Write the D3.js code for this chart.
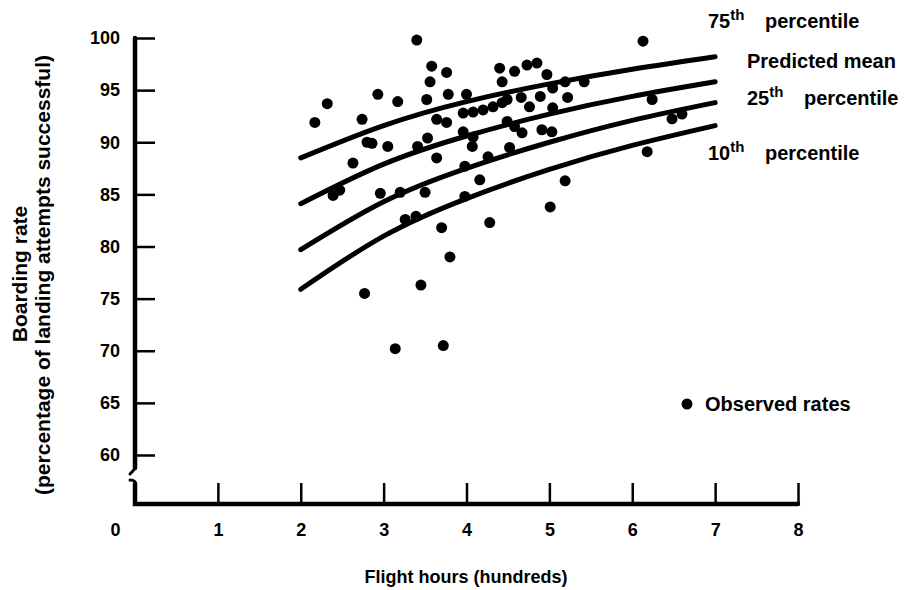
<!DOCTYPE html>
<html>
<head>
<meta charset="utf-8">
<script src="https://cdn.jsdelivr.net/npm/d3@7"></script>
<style>
  html, body { margin: 0; padding: 0; background: #fff; }
  svg text { font-family: "Liberation Sans", Arial, sans-serif; font-weight: bold; fill: #000; }
  .tick text { font-size: 18px; }
  .lbl { font-size: 20px; }
  .xtitle { font-size: 18px; }
  .ytitle { font-size: 21px; }
</style>
</head>
<body>
<svg id="chart" width="907" height="590"></svg>
<script>
// axis ticks
const hourTicks = [0, 1, 2, 3, 4, 5, 6, 7, 8];
const rateTicks = [60, 65, 70, 75, 80, 85, 90, 95, 100];

// fitted curves, read at whole hundreds of hours
const curveHours = [2, 3, 4, 5, 6, 7];
const pct75    = [88.5, 91.6, 93.9, 95.6, 97.0, 98.2];
const predMean = [84.1, 87.9, 90.6, 92.7, 94.4, 95.8];
const pct25    = [79.7, 84.3, 87.5, 90.0, 92.1, 93.8];
const pct10    = [75.9, 81.0, 84.6, 87.4, 89.7, 91.6];

// observed rates (flight hours in hundreds, boarding rate %)
const obsHours = [2.17, 2.32, 2.74, 2.93, 3.17, 3.40, 3.58, 3.76, 3.56, 3.78, 3.52, 2.80, 2.86, 3.05,
  2.63, 3.41, 3.53, 3.64, 2.96, 2.47, 2.39, 3.20, 3.50, 3.26, 3.39, 3.70, 3.80, 3.45, 2.77, 3.14,
  3.72, 3.98, 4.28, 4.40, 4.58, 4.73, 4.85, 4.43, 4.97, 5.04, 5.19, 5.42, 4.00, 3.96, 4.08, 4.20,
  4.32, 4.43, 4.49, 4.66, 4.76, 4.89, 5.04, 5.22, 3.64, 3.76, 3.96, 4.08, 4.49, 4.58, 4.67, 4.91,
  5.03, 4.07, 4.52, 4.26, 3.98, 4.16, 5.19, 5.01, 6.13, 6.24, 6.48, 6.60, 6.18];
const obsRates = [91.9, 93.7, 92.2, 94.6, 93.9, 99.8, 97.3, 96.7, 95.8, 94.6, 94.1, 90.0, 89.9, 89.6,
  88.0, 89.6, 90.4, 88.5, 85.1, 85.4, 84.9, 85.2, 85.2, 82.6, 82.9, 81.8, 79.0, 76.3, 75.5, 70.2,
  70.5, 84.8, 82.3, 97.1, 96.8, 97.4, 97.6, 95.8, 96.5, 95.2, 95.8, 95.8, 94.6, 92.8, 92.9, 93.1,
  93.4, 93.8, 94.1, 94.3, 93.4, 94.4, 93.3, 94.3, 92.2, 91.9, 91.0, 90.5, 92.0, 91.5, 90.9, 91.2,
  91.0, 89.6, 89.5, 88.6, 87.7, 86.4, 86.3, 83.8, 99.7, 94.1, 92.25, 92.7, 89.1];

const svg = d3.select('#chart');
const x = d3.scaleLinear().domain([0, 8]).range([135, 798]);
const y = d3.scaleLinear().domain([60, 100]).range([455, 38]);
const baseY = 504;

// y axis, ticks pointing inward
const gy = svg.append('g').attr('transform', 'translate(135,0)')
  .call(d3.axisLeft(y).tickValues(rateTicks).tickSize(-20).tickPadding(15).tickFormat(d3.format('d')));
gy.select('.domain').remove();
gy.selectAll('.tick line').attr('stroke', '#000').attr('stroke-width', 2.5);

// x axis on the broken baseline
const gx = svg.append('g').attr('transform', `translate(0,${baseY})`)
  .call(d3.axisBottom(x).tickValues(hourTicks).tickSize(-21).tickPadding(19).tickFormat(d3.format('d')));
gx.select('.domain').remove();
gx.selectAll('.tick line').attr('stroke', '#000').attr('stroke-width', 2.5);
gx.selectAll('.tick').filter(d => d === 0).select('text').attr('x', -20);

// axis lines with the break marks
const ax = svg.append('g').attr('fill', 'none').attr('stroke', '#000').attr('stroke-linecap', 'round');
ax.append('path').attr('stroke-width', 4.5)
  .attr('d', `M${x(0)},${y(100)}V468`);
ax.append('path').attr('stroke-width', 4.5)
  .attr('d', `M${x(0)},484V${baseY}H${x(8)}`);
ax.append('path').attr('stroke-width', 3)
  .attr('d', `M${x(0) - 5},474 C${x(0) - 1},470 ${x(0) + 1},468 ${x(0)},466`);
ax.append('path').attr('stroke-width', 3)
  .attr('d', `M${x(0) - 5},480 C${x(0) - 1},480 ${x(0) + 2},482 ${x(0)},486`);

// percentile and mean curves
const line = d3.line().x(d => x(d[0])).y(d => y(d[1])).curve(d3.curveNatural);
[pct75, predMean, pct25, pct10].forEach(vals => {
  svg.append('path')
    .datum(curveHours.map((h, i) => [h, vals[i]]))
    .attr('d', line)
    .attr('fill', 'none').attr('stroke', '#000')
    .attr('stroke-width', 5).attr('stroke-linecap', 'round');
});

// observed dots
svg.append('g').selectAll('circle')
  .data(obsHours.map((h, i) => [h, obsRates[i]]))
  .join('circle')
  .attr('cx', d => x(d[0])).attr('cy', d => y(d[1])).attr('r', 5.5)
  .attr('fill', '#000');

// curve labels
function ordLabel(px, py, num) {
  const t = svg.append('text').attr('class', 'lbl').attr('x', px).attr('y', py);
  t.append('tspan').text(num);
  t.append('tspan').attr('dy', -8).style('font-size', '15px').text('th');
  t.append('tspan').attr('x', px + 57).attr('dy', 8).text('percentile');
}
ordLabel(708, 28, '75');
svg.append('text').attr('class', 'lbl').attr('x', 747).attr('y', 68).text('Predicted mean');
ordLabel(747, 105, '25');
ordLabel(708, 160, '10');

// legend
svg.append('circle').attr('cx', 687).attr('cy', 404).attr('r', 5.5).attr('fill', '#000');
svg.append('text').attr('class', 'lbl').attr('x', 705).attr('y', 411).text('Observed rates');

// axis titles
svg.append('text').attr('class', 'xtitle').attr('text-anchor', 'middle')
  .attr('x', 466).attr('y', 583).text('Flight hours (hundreds)');
svg.append('text').attr('class', 'ytitle').attr('text-anchor', 'middle')
  .attr('transform', 'translate(27,274) rotate(-90)').text('Boarding rate');
svg.append('text').attr('class', 'ytitle').attr('text-anchor', 'middle')
  .attr('transform', 'translate(50,275) rotate(-90)').text('(percentage of landing attempts successful)');
</script>
</body>
</html>
